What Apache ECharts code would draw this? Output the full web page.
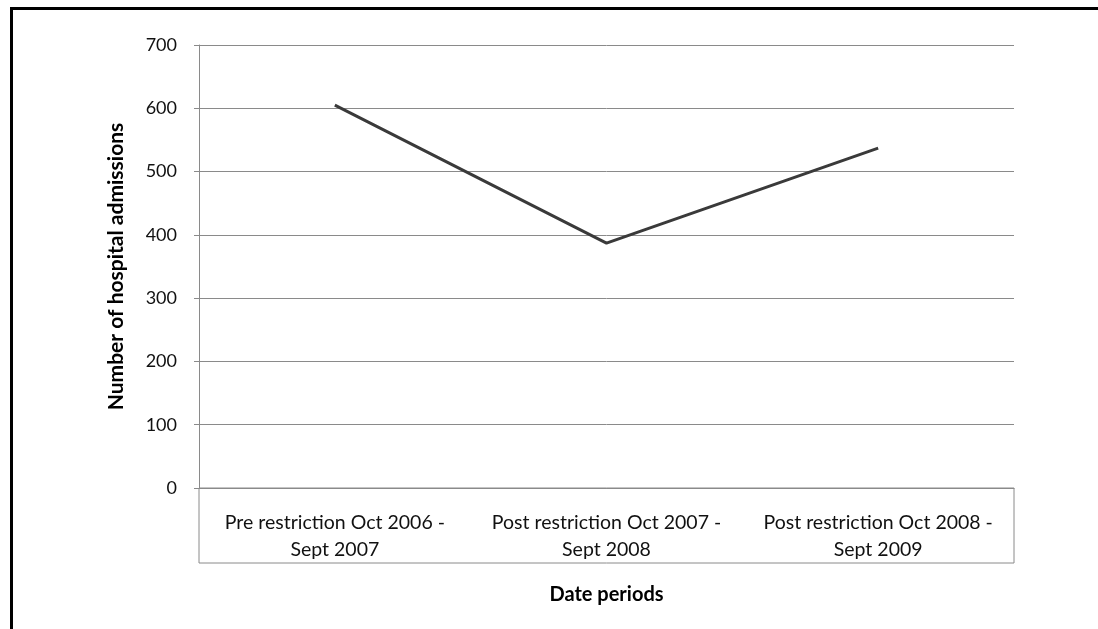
<!DOCTYPE html>
<html>
<head>
<meta charset="utf-8">
<script src="https://cdn.jsdelivr.net/npm/echarts@6/dist/echarts.min.js"></script>
<style>
  html, body { margin: 0; padding: 0; background: #fff; }
  #chart { width: 1098px; height: 629px; }
  #frame { position: absolute; left: 10px; top: 7px; right: 0; bottom: 0;
           border-left: 3px solid #000; border-top: 3px solid #000; pointer-events: none; }
</style>
</head>
<body>
<div id="chart"></div>
<div id="frame"></div>
<script>
const categories = [
  'Pre restriction Oct 2006 -\nSept 2007',
  'Post restriction Oct 2007 -\nSept 2008',
  'Post restriction Oct 2008 -\nSept 2009'
];
const admissions = [605, 387, 537];
const yMin = 0, yMax = 700, yStep = 100;
const xTitle = 'Date periods';
const yTitle = 'Number of hospital admissions';

const FONT = 'Lato';
const gridColor = '#8a8a8a';

const chart = echarts.init(document.getElementById('chart'));
chart.setOption({
  animation: false,
  textStyle: { fontFamily: FONT },
  grid: [
    { left: 199, right: 84, top: 45, bottom: 141 },
    { left: 199, right: 84, top: 488, bottom: 66, show: true, borderColor: gridColor, borderWidth: 1, backgroundColor: 'transparent' }
  ],
  xAxis: [
    {
      gridIndex: 0, type: 'category', data: categories, boundaryGap: true,
      axisLine: { show: true, lineStyle: { color: gridColor, width: 1 } },
      axisTick: { show: false },
      axisLabel: { color: '#111', fontSize: 19.5, fontFamily: FONT, lineHeight: 27, margin: 21, interval: 0 },
      name: xTitle, nameLocation: 'middle', nameGap: 97,
      nameTextStyle: { color: '#000', fontSize: 20, fontWeight: 'bold', fontFamily: FONT }
    },
    { gridIndex: 1, type: 'category', data: categories, show: false }
  ],
  yAxis: [
    {
      gridIndex: 0, type: 'value', min: yMin, max: yMax, interval: yStep,
      axisLine: { show: true, lineStyle: { color: gridColor, width: 1 } },
      axisTick: { show: true, length: 5, lineStyle: { color: gridColor } },
      axisLabel: { color: '#111', fontSize: 18, fontFamily: FONT, margin: 22 },
      splitLine: { show: true, lineStyle: { color: gridColor, width: 1 } },
      name: yTitle, nameLocation: 'middle', nameGap: 72,
      nameTextStyle: { color: '#000', fontSize: 21, fontWeight: 'bold', fontFamily: FONT }
    },
    { gridIndex: 1, type: 'value', show: false }
  ],
  series: [{
    type: 'line', xAxisIndex: 0, yAxisIndex: 0,
    data: admissions, symbol: 'none',
    lineStyle: { color: '#3a3a3a', width: 3 }
  }]
});
</script>
</body>
</html>
